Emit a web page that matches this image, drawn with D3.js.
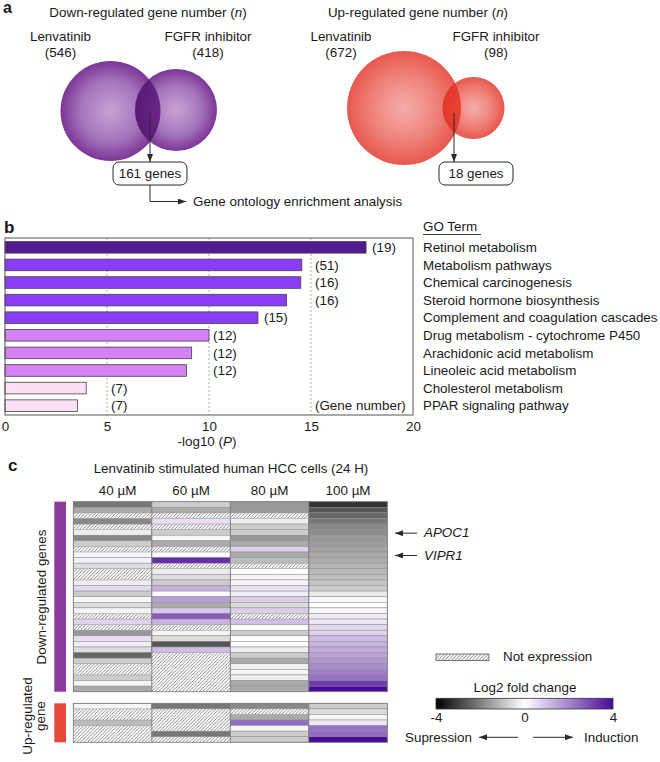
<!DOCTYPE html>
<html><head><meta charset="utf-8">
<script src="https://cdn.jsdelivr.net/npm/d3@7"></script>
<style>
body{margin:0;background:#fff;}
svg text{font-family:"Liberation Sans",Arial,Helvetica,sans-serif;fill:#1a1a1a;font-size:13.4px;}
</style></head><body>
<svg id="c" width="660" height="762"></svg>
<script>
// ---------------- DATA ----------------
const vennSets = ["Lenvatinib", "FGFR inhibitor"];
const downCounts = [546, 418];
const downOverlap = 161;
const upCounts = [672, 98];
const upOverlap = 18;

const goTerms = ["Retinol metabolism","Metabolism pathways","Chemical carcinogenesis",
  "Steroid hormone biosynthesis","Complement and coagulation cascades",
  "Drug metabolism - cytochrome P450","Arachidonic acid metabolism",
  "Lineoleic acid metabolism","Cholesterol metabolism","PPAR signaling pathway"];
const goLog10P = [17.7, 14.55, 14.5, 13.8, 12.4, 10.0, 9.15, 8.9, 3.98, 3.55];
const goGeneCount = [19, 51, 16, 16, 15, 12, 12, 12, 7, 7];
const xTicks = [0, 5, 10, 15, 20];

const concentrations = ["40 µM", "60 µM", "80 µM", "100 µM"];
// log2 fold change, null = not expressed
const down40 = [-2.13,-1.33,null,-1.87,null,-0.27,-1.87,-0.8,null,-0.16,0.25,-0.53,null,null,-0.27,0.6,-0.8,0.15,-0.53,-0.16,null,0.7,null,-1.6,0.5,0.3,-0.53,-2.4,-0.8,null,null,-0.8,-0.16,-1.33];
const down60 = [-0.8,-1.33,null,0.53,null,-0.8,-0.12,-1.33,null,-0.08,3.4,null,-0.27,-0.53,-0.8,1.25,-0.05,1.56,-1.33,0.9,2.68,1.22,null,-0.16,-0.53,-2.67,1.1,null,null,null,null,null,null,null];
const down80 = [-1.6,-1.6,null,-0.27,-0.8,-0.8,-1.6,-1.33,0.77,-1.33,-1.07,null,-0.05,-0.16,-0.16,0.5,0.3,0.8,-0.53,0.8,null,1.05,-0.05,-0.8,0.0,0.0,-0.27,-0.8,-1.33,-0.27,0.15,-0.27,-1.33,-1.33];
const down100 = [-3.2,-2.67,-2.4,-2.13,-1.87,-1.8,-1.6,-1.55,-1.45,-1.35,-1.3,-1.2,-1.1,-1.0,-0.9,-0.8,-0.3,-0.1,0.0,0.15,0.3,0.36,0.65,0.75,1.1,1.2,1.4,1.55,1.7,1.9,2.1,2.3,3.2,4.0];
const up40 = [-0.16,null,null,-1.07,null,null,null];
const up60 = [-2.13,null,null,null,null,-2.13,null];
const up80 = [-1.87,null,-1.33,2.4,-0.16,-0.8,-0.8];
const up100 = [-0.8,-0.53,-0.16,0.4,2.3,2.4,4.0];
const foldDomain = [-4, 0, 4];
const markedGenes = ["APOC1", "VIPR1"];
const markedRows = [5, 9];

// ---------------- DRAW ----------------
const svg = d3.select("#c");
const defs = svg.append("defs");
defs.append("marker").attr("id","arr").attr("viewBox","0 0 8 6").attr("refX",8).attr("refY",3)
  .attr("markerWidth",8).attr("markerHeight",6).attr("markerUnits","userSpaceOnUse").attr("orient","auto")
  .append("path").attr("d","M0,0L8,3L0,6Z").attr("fill","#2a2a2a");

function radial(id, stops){
  const g = defs.append("radialGradient").attr("id",id).attr("cx","50%").attr("cy","50%").attr("r","50%");
  stops.forEach(([o,c]) => g.append("stop").attr("offset",o).attr("stop-color",c));
}
radial("gP",[[0,"#c7a2d4"],[0.6,"#a575bc"],[1,"#7c3696"]]);
radial("gPo",[[0,"#74308f"],[1,"#5c1a78"]]);
radial("gR",[[0,"#f5aeab"],[0.6,"#ee8077"],[1,"#e8584e"]]);
radial("gRo",[[0,"#e9473b"],[1,"#e3392d"]]);

const pat = defs.append("pattern").attr("id","hatch").attr("patternUnits","userSpaceOnUse")
  .attr("width",3.4).attr("height",3.4);
pat.append("rect").attr("width",3.4).attr("height",3.4).attr("fill","#fff");
pat.append("path").attr("d","M-1,1L1,-1M0,3.4L3.4,0M2.4,4.4L4.4,2.4")
  .attr("stroke","#666").attr("stroke-width",0.8);

function label(g, x, y, txt, opts={}){
  const t = g.append("text").attr("x",x).attr("y",y).attr("text-anchor",opts.anchor||"middle");
  if (opts.size) t.style("font-size",opts.size);
  if (opts.weight) t.style("font-weight",opts.weight);
  if (opts.italic) t.style("font-style","italic");
  t.text(txt);
  return t;
}
function titleN(g, x, y, pre){
  const t = g.append("text").attr("x",x).attr("y",y).attr("text-anchor","middle");
  t.append("tspan").text(pre + " (");
  t.append("tspan").style("font-style","italic").text("n");
  t.append("tspan").text(")");
}

// ---- Panel a ----
const gA = svg.append("g");
label(gA, 3, 13, "a", {anchor:"start", size:"16px", weight:"bold"});

function venn(id, c1, c2, grad, gradO, counts, overlap, title, titleX, setX, arrowX, boxX){
  titleN(gA, titleX, 16.7, title);
  label(gA, setX[0], 40.7, vennSets[0]);
  label(gA, setX[0], 57.3, "(" + counts[0] + ")");
  label(gA, setX[1], 40.7, vennSets[1]);
  label(gA, setX[1], 57.3, "(" + counts[1] + ")");
  gA.append("circle").attr("cx",c1[0]).attr("cy",c1[1]).attr("r",c1[2]).attr("fill","url(#"+grad+")");
  gA.append("circle").attr("cx",c2[0]).attr("cy",c2[1]).attr("r",c2[2]).attr("fill","url(#"+grad+")");
  defs.append("clipPath").attr("id","clip"+id).append("circle").attr("cx",c1[0]).attr("cy",c1[1]).attr("r",c1[2]);
  gA.append("circle").attr("cx",c2[0]).attr("cy",c2[1]).attr("r",c2[2]).attr("fill","url(#"+gradO+")")
    .attr("clip-path","url(#clip"+id+")");
  gA.append("line").attr("x1",arrowX).attr("y1",113).attr("x2",arrowX).attr("y2",162)
    .attr("stroke","#2a2a2a").attr("stroke-width",1).attr("marker-end","url(#arr)");
  gA.append("rect").attr("x",boxX).attr("y",162).attr("width",74).attr("height",23).attr("rx",6)
    .attr("fill","#fff").attr("stroke","#2a2a2a").attr("stroke-width",1);
  label(gA, boxX+37, 178.3, overlap + " genes");
}
venn("d", [110.5,111,50], [176,110,41], "gP", "gPo", downCounts, downOverlap,
     "Down-regulated gene number", 148, [60.5,208], 150, 113);
venn("u", [404,108,57], [473.5,108,31], "gR", "gRo", upCounts, upOverlap,
     "Up-regulated gene number", 418, [341,496], 454, 439);
gA.append("path").attr("d","M150,185V201.5H186").attr("fill","none").attr("stroke","#2a2a2a")
  .attr("stroke-width",1).attr("marker-end","url(#arr)");
label(gA, 193, 205.5, "Gene ontology enrichment analysis", {anchor:"start"});

// ---- Panel b ----
const gB = svg.append("g");
label(gB, 4, 233, "b", {anchor:"start", size:"17px", weight:"bold"});
const xB = d3.scaleLinear().domain([0,20]).range([5,413]);
const yB = d3.scaleBand().domain(goTerms).range([238,415]).paddingInner(0.34).paddingOuter(0.2);
const barColor = v => v > 15 ? "#521a8f" : v > 12 ? "#8b3cf8" : v > 8 ? "#d580f5" : "#fde0f3";

gB.selectAll("line.grid").data([5,10,15]).join("line").attr("class","grid")
  .attr("x1",d=>xB(d)).attr("x2",d=>xB(d)).attr("y1",238).attr("y2",415)
  .attr("stroke","#9a9a9a").attr("stroke-width",0.8).attr("stroke-dasharray","2,2");
gB.selectAll("rect.bar").data(goTerms).join("rect").attr("class","bar")
  .attr("x",xB(0)).attr("y",d=>yB(d)).attr("height",yB.bandwidth())
  .attr("width",(d,i)=>xB(goLog10P[i])-xB(0))
  .attr("fill",(d,i)=>barColor(goLog10P[i])).attr("stroke","#444").attr("stroke-width",0.8);
gB.append("rect").attr("x",xB(0)).attr("y",238).attr("width",xB(20)-xB(0)).attr("height",177)
  .attr("fill","none").attr("stroke","#555").attr("stroke-width",1);
gB.selectAll("text.cnt").data(goTerms).join("text").attr("class","cnt")
  .attr("x",(d,i)=>{
    const v = goLog10P[i], g = Math.ceil(v/5)*5;
    return (g - v) < 1.6 ? xB(g)+4 : xB(v)+6;
  })
  .attr("y",d=>yB(d)+yB.bandwidth()/2+4.7)
  .text((d,i)=>"(" + goGeneCount[i] + ")");
label(gB, xB(15)+4, yB(goTerms[9])+yB.bandwidth()/2+4.7, "(Gene number)", {anchor:"start"});
label(gB, 423, 231, "GO Term", {anchor:"start"});
gB.append("line").attr("x1",423).attr("x2",481).attr("y1",234.5).attr("y2",234.5)
  .attr("stroke","#222").attr("stroke-width",0.9);
gB.selectAll("text.term").data(goTerms).join("text").attr("class","term")
  .attr("x",423).attr("y",d=>yB(d)+yB.bandwidth()/2+4.7).attr("text-anchor","start").text(d=>d);
const axB = gB.append("g").attr("transform","translate(0,415)")
  .call(d3.axisBottom(xB).tickValues(xTicks).tickSize(0).tickPadding(6.5));
axB.select(".domain").remove();
axB.selectAll("text").style("font-size","13.4px").attr("fill","#1a1a1a")
  .style("font-family","'Liberation Sans',Arial,sans-serif");
const xl = gB.append("text").attr("x",207).attr("y",446).attr("text-anchor","middle");
xl.append("tspan").text("-log10 (");
xl.append("tspan").style("font-style","italic").text("P");
xl.append("tspan").text(")");

// ---- Panel c ----
const gC = svg.append("g");
label(gC, 8, 470.7, "c", {anchor:"start", size:"17px", weight:"bold"});
label(gC, 231, 472.5, "Lenvatinib stimulated human HCC cells (24 H)");
const xC = d3.scaleBand().domain(concentrations).range([73.3,387.3]);
gC.selectAll("text.conc").data(concentrations).join("text").attr("class","conc")
  .attr("x",d=>xC(d)+xC.bandwidth()/2 + (d===concentrations[0]?5:0)).attr("y",494.5)
  .attr("text-anchor","middle").text(d=>d);
const color = d3.scaleLinear().domain(foldDomain).range(["#000000","#ffffff","#4a0a99"]);

function heat(cols, y0, y1){
  const n = cols[0].length;
  const yC = d3.scaleBand().domain(d3.range(n)).range([y0,y1]);
  const cells = [];
  cols.forEach((arr,ci)=>arr.forEach((v,ri)=>cells.push({c:concentrations[ci], r:ri, v})));
  const g = gC.append("g");
  g.selectAll("rect.na").data(cells.filter(d=>d.v===null)).join("rect").attr("class","na")
    .attr("x",d=>xC(d.c)).attr("y",d=>yC(d.r)).attr("width",xC.bandwidth()).attr("height",yC.bandwidth())
    .attr("fill","url(#hatch)");
  g.selectAll("rect.val").data(cells.filter(d=>d.v!==null)).join("rect").attr("class","val")
    .attr("x",d=>xC(d.c)).attr("y",d=>yC(d.r)).attr("width",xC.bandwidth()).attr("height",yC.bandwidth())
    .attr("fill",d=>color(d.v)).attr("stroke","#8c8c8c").attr("stroke-width",0.5);
  g.selectAll("line.col").data(concentrations.slice(1)).join("line").attr("class","col")
    .attr("x1",d=>xC(d)).attr("x2",d=>xC(d)).attr("y1",y0).attr("y2",y1)
    .attr("stroke","#7a7a7a").attr("stroke-width",0.8);
  g.append("rect").attr("x",xC.range()[0]).attr("y",y0).attr("width",xC.range()[1]-xC.range()[0])
    .attr("height",y1-y0).attr("fill","none").attr("stroke","#7a7a7a").attr("stroke-width",0.8);
  return yC;
}
const yDown = heat([down40,down60,down80,down100], 501.7, 691.7);
heat([up40,up60,up80,up100], 703.3, 742.3);

gC.append("rect").attr("x",54.3).attr("y",501.7).attr("width",11.7).attr("height",190).attr("fill","#8b3b9b");
gC.append("rect").attr("x",54.3).attr("y",703.3).attr("width",11.7).attr("height",39).attr("fill","#e8483c");
gC.append("text").attr("transform","translate(46,597) rotate(-90)").attr("text-anchor","middle").text("Down-regulated genes");
gC.append("text").attr("transform","translate(31.5,716) rotate(-90)").attr("text-anchor","middle").text("Up-regulated");
gC.append("text").attr("transform","translate(45,716) rotate(-90)").attr("text-anchor","middle").text("gene");

markedGenes.forEach((gname,i)=>{
  const y = yDown(markedRows[i]) + yDown.bandwidth()/2 + 0.7;
  gC.append("line").attr("x1",417).attr("x2",395).attr("y1",y).attr("y2",y)
    .attr("stroke","#2a2a2a").attr("stroke-width",1).attr("marker-end","url(#arr)");
  label(gC, 424, y+4.2, gname, {anchor:"start", italic:true});
});

// legend
gC.append("rect").attr("x",436).attr("y",654).attr("width",53).attr("height",6.5)
  .attr("fill","url(#hatch)").attr("stroke","#555").attr("stroke-width",0.8);
label(gC, 503, 661, "Not expression", {anchor:"start"});
label(gC, 525, 691.7, "Log2 fold change");
const lg = defs.append("linearGradient").attr("id","lgd");
d3.range(0,1.0001,0.05).forEach(t=>lg.append("stop").attr("offset",t).attr("stop-color",color(-4+8*t)));
const xL = d3.scaleLinear().domain([foldDomain[0],foldDomain[2]]).range([436,613]);
gC.append("rect").attr("x",xL(-4)).attr("y",698.3).attr("width",xL(4)-xL(-4)).attr("height",10.7)
  .attr("fill","url(#lgd)").attr("stroke","#333").attr("stroke-width",0.8);
const axL = gC.append("g").attr("transform","translate(0,709)")
  .call(d3.axisBottom(xL).tickValues(foldDomain).tickSize(0).tickPadding(3.2)
    .tickFormat(d=> d<0 ? "-" + Math.abs(d) : String(d)));
axL.select(".domain").remove();
axL.selectAll("text").style("font-size","13.4px").attr("fill","#1a1a1a")
  .style("font-family","'Liberation Sans',Arial,sans-serif");
label(gC, 405, 741.7, "Supression", {anchor:"start"});
label(gC, 584, 741.7, "Induction", {anchor:"start"});
gC.append("line").attr("x1",518).attr("x2",479).attr("y1",737.3).attr("y2",737.3)
  .attr("stroke","#2a2a2a").attr("stroke-width",1).attr("marker-end","url(#arr)");
gC.append("line").attr("x1",533).attr("x2",573).attr("y1",737.3).attr("y2",737.3)
  .attr("stroke","#2a2a2a").attr("stroke-width",1).attr("marker-end","url(#arr)");
</script></body></html>
